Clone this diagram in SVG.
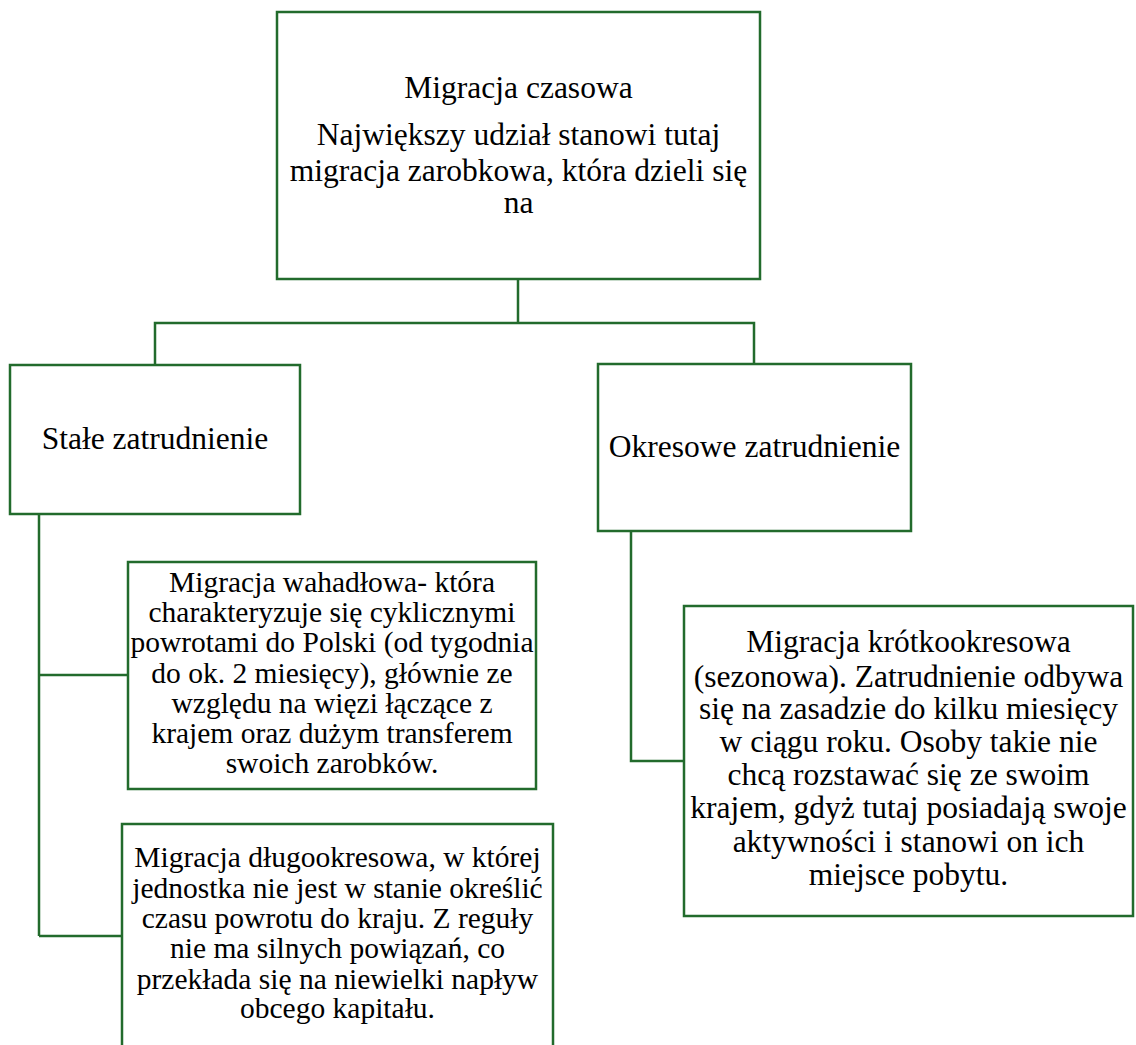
<svg xmlns="http://www.w3.org/2000/svg" width="1136" height="1045" viewBox="0 0 1136 1045">
  <style>
    .box { fill: #ffffff; stroke: #226b2c; stroke-width: 2.5; }
    .conn { fill: none; stroke: #226b2c; stroke-width: 2.5; }
    .t { font-family: 'Liberation Serif', 'Times New Roman', serif; fill: #000000; text-anchor: middle; }
    .big { font-size: 31.5px; }
    .small { font-size: 29.5px; }
  </style>
  <rect width="1136" height="1045" fill="#ffffff"/>
  <g id="connectors">
    <path class="conn" d="M518,279 V323 M155,365 V323 H754 V364"/>
    <path class="conn" d="M39,514 V936 M39,675 H128 M39,936 H122"/>
    <path class="conn" d="M631,531 V761 H684"/>
  </g>
  <g id="node-migracja-czasowa" class="t big">
    <rect class="box" x="277" y="12" width="483" height="267"/>
    <text x="518.5" y="98">Migracja czasowa</text>
    <text x="518.5" y="145">Największy udział stanowi tutaj</text>
    <text x="518.5" y="181">migracja zarobkowa, która dzieli się</text>
    <text x="518.5" y="213">na</text>
  </g>
  <g id="node-stale" class="t big">
    <rect class="box" x="10" y="365" width="290" height="149"/>
    <text x="155" y="449">Stałe zatrudnienie</text>
  </g>
  <g id="node-okresowe" class="t big">
    <rect class="box" x="598" y="364" width="313" height="167"/>
    <text x="754.5" y="457">Okresowe zatrudnienie</text>
  </g>
  <g id="node-wahadlowa" class="t small">
    <rect class="box" x="128" y="562" width="408" height="227"/>
    <text x="332" y="592">Migracja wahadłowa- która</text>
    <text x="332" y="622">charakteryzuje się cyklicznymi</text>
    <text x="332" y="652">powrotami do Polski (od tygodnia</text>
    <text x="332" y="683">do ok. 2 miesięcy), głównie ze</text>
    <text x="332" y="713">względu na więzi łączące z</text>
    <text x="332" y="743">krajem oraz dużym transferem</text>
    <text x="332" y="773">swoich zarobków.</text>
  </g>
  <g id="node-dlugookresowa" class="t small">
    <rect class="box" x="122" y="824" width="431" height="240"/>
    <text x="337.5" y="867">Migracja długookresowa, w której</text>
    <text x="337.5" y="898">jednostka nie jest w stanie określić</text>
    <text x="337.5" y="928">czasu powrotu do kraju. Z reguły</text>
    <text x="337.5" y="958">nie ma silnych powiązań, co</text>
    <text x="337.5" y="989">przekłada się na niewielki napływ</text>
    <text x="337.5" y="1018">obcego kapitału.</text>
  </g>
  <g id="node-krotkookresowa" class="t big">
    <rect class="box" x="684" y="606" width="449" height="310"/>
    <text x="908.5" y="652">Migracja krótkookresowa</text>
    <text x="908.5" y="687">(sezonowa). Zatrudnienie odbywa</text>
    <text x="908.5" y="719">się na zasadzie do kilku miesięcy</text>
    <text x="908.5" y="752">w ciągu roku. Osoby takie nie</text>
    <text x="908.5" y="785">chcą rozstawać się ze swoim</text>
    <text x="908.5" y="818">krajem, gdyż tutaj posiadają swoje</text>
    <text x="908.5" y="852">aktywności i stanowi on ich</text>
    <text x="908.5" y="885">miejsce pobytu.</text>
  </g>
</svg>
